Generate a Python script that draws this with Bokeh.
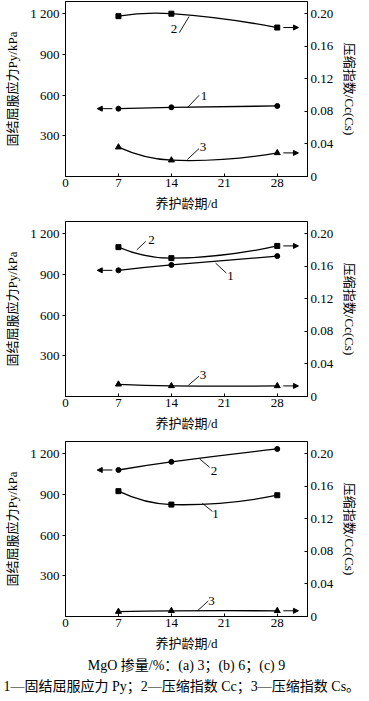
from bokeh.plotting import figure
from bokeh.models import Range1d, LinearAxis, FixedTicker, Arrow, NormalHead, Title
from bokeh.layouts import column
from bokeh.embed import file_html
from bokeh.resources import INLINE
from bokeh.core.properties import value

# ---------------- data ----------------
days = [7, 14, 28]
x_ticks = [0, 7, 14, 21, 28]
left_ticks = [300, 600, 900, 1200]
right_ticks = [0, 0.04, 0.08, 0.12, 0.16, 0.20]

# (a) MgO 3 %
py_a = [500, 510, 520]
cc_a = [0.197, 0.200, 0.183]
cs_a = [0.036, 0.020, 0.029]
# (b) MgO 6 %
py_b = [930, 970, 1035]
cc_b = [0.1835, 0.170, 0.185]
cs_b = [0.015, 0.013, 0.013]
# (c) MgO 9 %  (circles labelled "2", squares labelled "1" in the original)
py_c = [1080, 1140, 1235]
cc_c = [0.154, 0.1375, 0.149]
cs_c = [0.006, 0.007, 0.007]

caption1 = "MgO 掺量/%：(a) 3；(b) 6；(c) 9"
caption2 = "1—固结屈服应力 Py；2—压缩指数 Cc；3—压缩指数 Cs。"
x_title = "养护龄期/d"
left_title = "固结屈服应力Py/kPa"
right_title = "压缩指数/Cc(Cs)"

SERIF = "Liberation Serif, Noto Sans CJK SC"
LEFT_MAX = 1290
RIGHT_MAX = 0.215


def hermite(xs, ys):
    """Bezier control points of a smooth (cubic Hermite) curve through the points."""
    n = len(xs)
    m = []
    for i in range(n):
        if i == 0:
            s = (ys[1] - ys[0]) / (xs[1] - xs[0])
            s2 = (ys[2] - ys[0]) / (xs[2] - xs[0])
            m.append(2 * s - s2)
        elif i == n - 1:
            s = (ys[-1] - ys[-2]) / (xs[-1] - xs[-2])
            s2 = (ys[-1] - ys[-3]) / (xs[-1] - xs[-3])
            m.append(2 * s - s2)
        else:
            m.append((ys[i + 1] - ys[i - 1]) / (xs[i + 1] - xs[i - 1]))
    out = dict(x0=[], y0=[], x1=[], y1=[], cx0=[], cy0=[], cx1=[], cy1=[])
    for i in range(n - 1):
        dx = xs[i + 1] - xs[i]
        out["x0"].append(xs[i]); out["y0"].append(ys[i])
        out["x1"].append(xs[i + 1]); out["y1"].append(ys[i + 1])
        out["cx0"].append(xs[i] + dx / 3); out["cy0"].append(ys[i] + m[i] * dx / 3)
        out["cx1"].append(xs[i + 1] - dx / 3); out["cy1"].append(ys[i + 1] - m[i + 1] * dx / 3)
    return out


def series(p, ys, marker, rng, size):
    b = hermite(days, ys)
    p.bezier(**b, line_color="black", line_width=1.3, y_range_name=rng)
    p.scatter(days, ys, marker=marker, size=size, fill_color="black", line_color="black",
              y_range_name=rng)


def arrow(p, x, y, direction, rng):
    if direction == "left":
        xs, xe = x - 0.8, x - 2.8
    else:
        xs, xe = x + 0.8, x + 2.8
    p.add_layout(Arrow(end=NormalHead(size=5, fill_color="black", line_color="black"),
                       x_start=xs, y_start=y, x_end=xe, y_end=y,
                       line_color="black", line_width=1, y_range_name=rng))


def tag(p, txt, tx, ty, lx0, ly0, lx1, ly1):
    p.segment(x0=[lx0], y0=[ly0], x1=[lx1], y1=[ly1], line_color="black", line_width=0.9)
    p.text(x=[tx], y=[ty], text=[txt], text_font=value("Liberation Serif"),
           text_font_size="13px", text_align="center", text_baseline="middle",
           text_color="black")


def make_fig(bottom):
    p = figure(frame_width=242, frame_height=175, output_backend="svg",
               toolbar_location=None,
               x_range=Range1d(0, 32), y_range=Range1d(0, LEFT_MAX),
               min_border_left=65, min_border_right=48, min_border_top=1,
               min_border_bottom=bottom, background_fill_color="white",
               border_fill_color="white", outline_line_color="black",
               outline_line_width=1)
    p.extra_y_ranges = {"right": Range1d(0, RIGHT_MAX)}
    p.xgrid.visible = False
    p.ygrid.visible = False

    xa = p.xaxis[0]
    xa.ticker = FixedTicker(ticks=x_ticks)
    xa.axis_label = x_title
    ya = p.yaxis[0]
    ya.ticker = FixedTicker(ticks=left_ticks)
    ya.major_label_overrides = {1200: "1 200"}
    ya.axis_label = left_title
    ra = LinearAxis(y_range_name="right", ticker=FixedTicker(ticks=right_ticks),
                    axis_label=right_title)
    ra.major_label_overrides = {0: "0", 0.2: "0.20"}
    p.add_layout(ra, "right")

    for ax in (xa, ya, ra):
        ax.minor_tick_line_color = None
        ax.axis_line_color = "black"
        ax.major_tick_line_color = "black"
        ax.major_label_text_font = SERIF
        ax.major_label_text_font_size = "13px"
        ax.major_label_text_color = "black"
        ax.axis_label_text_font = SERIF
        ax.axis_label_text_font_size = "13px"
        ax.axis_label_text_font_style = "normal"
        ax.axis_label_text_color = "black"
    xa.major_tick_in, xa.major_tick_out = 3, 0
    xa.major_label_standoff = 2
    xa.axis_label_standoff = 6
    ya.major_tick_in, ya.major_tick_out = 0, 3
    ya.major_label_standoff = 3
    ya.axis_label_standoff = 7
    ra.major_tick_in, ra.major_tick_out = 3, 0
    ra.major_label_standoff = 3
    ra.axis_label_standoff = 6
    return p


# ---------------- panel (a) ----------------
p1 = make_fig(44)
series(p1, py_a, "circle", "default", 5)
series(p1, cc_a, "square", "right", 5)
series(p1, cs_a, "triangle", "right", 6)
arrow(p1, days[0], py_a[0], "left", "default")
arrow(p1, days[-1], cc_a[-1], "right", "right")
arrow(p1, days[-1], cs_a[-1], "right", "right")
tag(p1, "2", 14.36, 1088, 15.06, 1061, 16.34, 1179)
tag(p1, "1", 18.32, 593, 16.11, 507, 17.66, 598)
tag(p1, "3", 18.19, 218, 16.11, 125, 17.66, 206)

# ---------------- panel (b) ----------------
p2 = make_fig(44)
series(p2, py_b, "circle", "default", 5)
series(p2, cc_b, "square", "right", 5)
series(p2, cs_b, "triangle", "right", 6)
arrow(p2, days[0], py_b[0], "left", "default")
arrow(p2, days[-1], cc_b[-1], "right", "right")
arrow(p2, days[-1], cs_b[-1], "right", "right")
tag(p2, "2", 11.36, 1154, 9.42, 1081, 10.61, 1143)
tag(p2, "1", 21.83, 885, 19.85, 983, 21.27, 910)
tag(p2, "3", 18.19, 162, 16.25, 83, 17.66, 150)

# ---------------- panel (c) ----------------
p3 = make_fig(10)
series(p3, py_c, "circle", "default", 5)
series(p3, cc_c, "square", "right", 5)
series(p3, cs_c, "triangle", "right", 6)
arrow(p3, days[0], py_c[0], "left", "default")
arrow(p3, days[-1], cs_c[-1], "right", "right")
tag(p3, "2", 19.64, 1075, 17.74, 1161, 19.06, 1100)
tag(p3, "1", 19.85, 755, 18.10, 834, 19.42, 775)
tag(p3, "3", 19.32, 115, 17.43, 41, 18.89, 115)

# ---------------- captions (below panel c) ----------------
p3.add_layout(Title(text=caption1, align="center", text_font=SERIF, text_font_size="14px",
                    text_font_style="normal", text_color="black", standoff=4), "below")
p3.add_layout(Title(text=caption2, align="left", offset=-62, text_font=SERIF,
                    text_font_size="14px", text_font_style="normal", text_color="black",
                    standoff=4), "below")

layout = column(p1, p2, p3, spacing=0)
open("out.html", "w").write(file_html(layout, INLINE))
